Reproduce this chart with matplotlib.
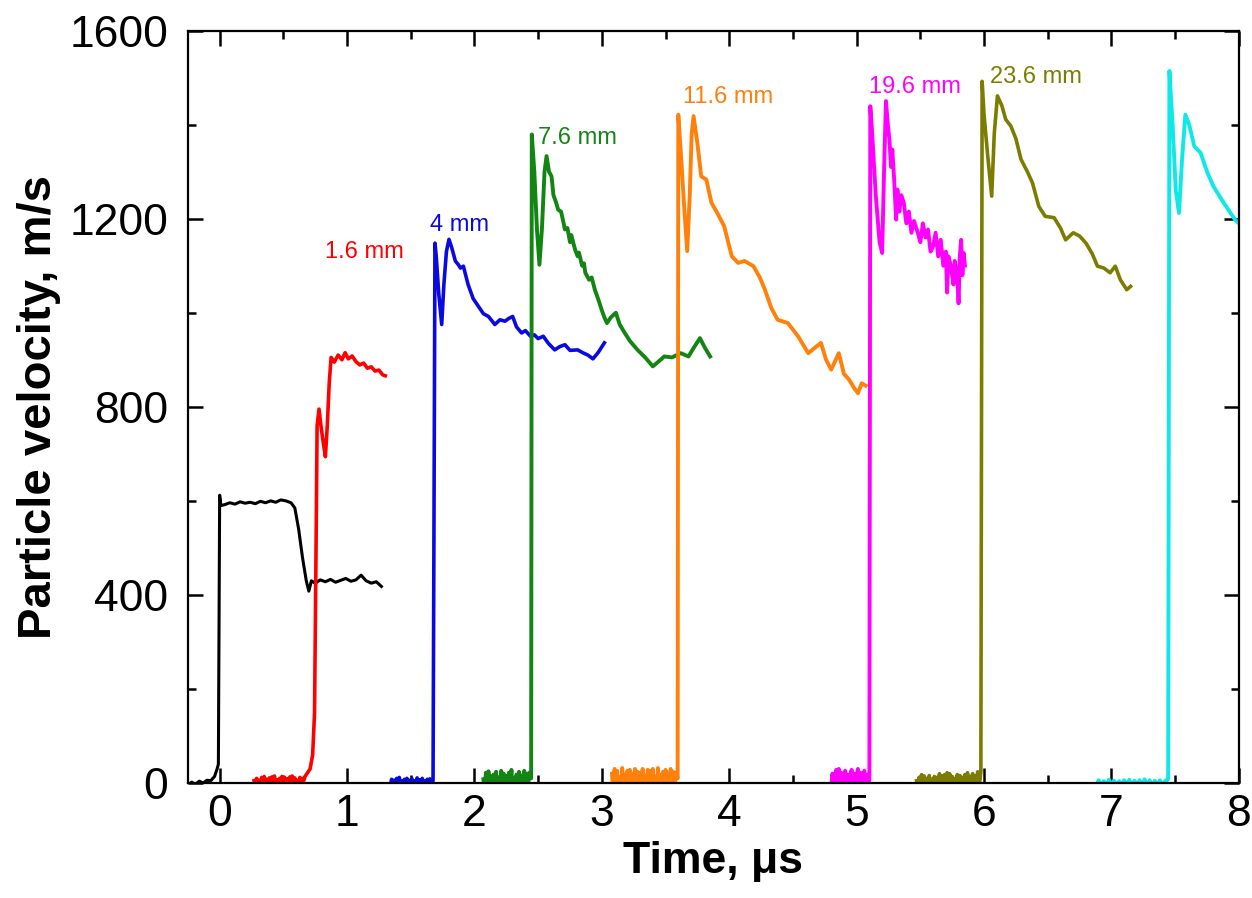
import matplotlib
matplotlib.use("Agg")
import matplotlib.pyplot as plt
from matplotlib.ticker import MultipleLocator

plt.rcParams['font.family'] = ['Liberation Sans', 'DejaVu Sans']

# gauge traces, time in us, particle velocity in m/s
t_black = [-0.25, -0.22, -0.19, -0.16, -0.13, -0.10, -0.07, -0.04, -0.02, -0.01, 0.00, 0.01,
           0.04, 0.08, 0.12, 0.16, 0.20, 0.24, 0.28, 0.32, 0.36, 0.40, 0.44, 0.48, 0.52, 0.56,
           0.59, 0.62, 0.65, 0.68, 0.70, 0.72, 0.75, 0.79, 0.83, 0.87, 0.91, 0.95, 0.99, 1.03,
           1.07, 1.11, 1.15, 1.19, 1.23, 1.27]
v_black = [-5, 2, -3, 4, 0, 6, 5, 14, 30, 40, 612, 590,
           592, 596, 593, 598, 595, 597, 594, 599, 596, 600, 597, 602, 600, 596,
           585, 540, 480, 430, 408, 430, 425, 432, 428, 433, 427, 431, 435, 429,
           432, 442, 430, 425, 428, 418]

t_red = [0.27, 0.28, 0.29, 0.30, 0.31, 0.32, 0.33, 0.34, 0.35, 0.36, 0.37, 0.38, 0.39, 0.40,
         0.41, 0.42, 0.43, 0.44, 0.45, 0.46, 0.47, 0.48, 0.49, 0.50, 0.51, 0.52, 0.53, 0.54,
         0.55, 0.56, 0.57, 0.58, 0.59, 0.60, 0.61, 0.62, 0.63, 0.64, 0.65, 0.66, 0.67, 0.68,
         0.69, 0.71, 0.73, 0.745, 0.755, 0.765,
         0.78, 0.795, 0.81, 0.83, 0.845, 0.86, 0.875, 0.90, 0.93, 0.96, 0.985, 1.01, 1.04,
         1.07, 1.10, 1.13, 1.16, 1.19, 1.22, 1.25, 1.28, 1.30]
v_red = [5, -8, 10, -12, 6, -15, 12, -6, 14, -10, 8, -14, 11, -5,
         13, -9, 15, -12, 7, -4, 10, -12, 14, -8, 12, -15, 9, -6,
         13, -10, 15, -8, 11, -13, 6, -9, 12, -7, 10, 5, 14, 18,
         22, 30, 60, 150, 450, 760,
         795, 760, 730, 694, 760, 850, 905, 895, 910, 900, 915, 902, 908,
         896, 889, 893, 882, 885, 876, 878, 868, 866]

t_blue = [1.34, 1.35, 1.36, 1.37, 1.38, 1.39, 1.40, 1.41, 1.42, 1.43, 1.44, 1.45, 1.46, 1.47,
          1.48, 1.49, 1.50, 1.51, 1.52, 1.53, 1.54, 1.55, 1.56, 1.57, 1.58, 1.59, 1.60, 1.61,
          1.62, 1.63, 1.64, 1.65, 1.66, 1.675, 1.683, 1.69, 1.70, 1.72, 1.743, 1.76, 1.78,
          1.80, 1.82, 1.85, 1.874, 1.89, 1.913, 1.95, 1.99, 2.03, 2.07, 2.11, 2.16, 2.20,
          2.24, 2.27, 2.30, 2.33, 2.37, 2.40, 2.44, 2.47, 2.50, 2.54, 2.58, 2.63, 2.67,
          2.71, 2.75, 2.81, 2.85, 2.89, 2.93, 2.97, 3.02]
v_blue = [-5, 8, -10, 6, -4, 10, -8, 12, -6, 4, -10, 8, -5, 10,
          -8, 6, -4, 9, -7, 5, -9, 11, -3, 7, -6, 10, -8, 5,
          -4, 8, -6, 9, -3, 5, 600, 1148, 1120, 1040, 975, 1060, 1130,
          1156, 1140, 1110, 1102, 1095, 1099, 1060, 1030, 1014, 998, 992, 975, 985,
          982, 988, 992, 970, 957, 962, 950, 953, 945, 950, 935, 921, 928,
          932, 920, 921, 915, 910, 902, 915, 936]

t_green = [2.07, 2.08, 2.09, 2.10, 2.11, 2.12, 2.13, 2.14, 2.15, 2.16, 2.17, 2.18, 2.19, 2.20,
           2.21, 2.22, 2.23, 2.24, 2.25, 2.26, 2.27, 2.28, 2.29, 2.30, 2.31, 2.32, 2.33, 2.34,
           2.35, 2.36, 2.37, 2.38, 2.39, 2.40, 2.41, 2.42, 2.43, 2.445,
           2.45, 2.47, 2.49, 2.51, 2.53, 2.55, 2.566,
           2.585, 2.605, 2.62, 2.64, 2.657, 2.68, 2.70, 2.71, 2.73, 2.75, 2.76, 2.79, 2.81,
           2.82, 2.845, 2.86, 2.87, 2.90, 2.92, 2.945, 2.97, 3.00, 3.02, 3.04, 3.07, 3.11,
           3.14, 3.18, 3.22, 3.28, 3.34, 3.40, 3.44, 3.49, 3.55, 3.62, 3.68, 3.72, 3.77,
           3.81, 3.85]
v_green = [8, -18, 22, -12, 25, -20, 14, -25, 18, -8, 24, -22, 12, -16,
           26, -10, 20, -24, 15, -18, 22, -14, 28, -20, 10, -26, 18, -12,
           24, -20, 16, -22, 26, -15, 20, -10, 22, 10,
           1379, 1300, 1180, 1102, 1180, 1300, 1333,
           1300, 1290, 1250, 1235, 1219, 1215, 1190, 1177, 1180, 1150, 1165, 1134, 1120,
           1128, 1100, 1105, 1085, 1070, 1075, 1049, 1030, 1005, 990, 978, 990, 1000,
           975, 957, 940, 921, 905, 886, 895, 907, 905, 914, 907, 925, 946,
           925, 907]

t_orange = [3.08, 3.09, 3.10, 3.11, 3.12, 3.13, 3.14, 3.15, 3.16, 3.17, 3.18, 3.19, 3.20, 3.21,
            3.22, 3.23, 3.24, 3.25, 3.26, 3.27, 3.28, 3.29, 3.30, 3.31, 3.32, 3.33, 3.34, 3.35,
            3.36, 3.37, 3.38, 3.39, 3.40, 3.41, 3.42, 3.43, 3.44, 3.45, 3.46, 3.47, 3.48, 3.49,
            3.50, 3.51, 3.52, 3.53, 3.54, 3.55, 3.56, 3.57, 3.58, 3.595,
            3.60, 3.62, 3.645, 3.67, 3.69, 3.705, 3.72, 3.75, 3.78, 3.82, 3.86, 3.91, 3.96,
            4.02, 4.07, 4.12, 4.19, 4.24, 4.28, 4.33, 4.38, 4.46, 4.54, 4.62, 4.67, 4.72,
            4.76, 4.80, 4.86, 4.90, 4.94, 4.98, 5.01, 5.04, 5.07]
v_orange = [20, -25, 30, -18, 26, -30, 12, -28, 32, -22, 18, -30, 26, -14,
            28, -26, 20, -32, 30, -18, 24, -28, 22, -26, 30, -20, 16, -30,
            28, -12, 26, -24, 30, -20, 14, -28, 32, -22, 18, -30, 24, -16,
            28, -26, 20, -30, 30, -18, 24, -28, 22, 10,
            1421, 1340, 1230, 1131, 1250, 1380, 1418, 1360, 1290, 1283, 1234, 1210, 1184,
            1120, 1106, 1110, 1099, 1075, 1049, 1010, 985, 978, 950, 914, 925, 936,
            900, 879, 914, 870, 858, 840, 829, 850, 845]

t_magenta = [4.80, 4.81, 4.82, 4.83, 4.84, 4.85, 4.86, 4.87, 4.88, 4.89, 4.90, 4.91, 4.92,
             4.93, 4.94, 4.95, 4.96, 4.97, 4.98, 4.99, 5.00, 5.01, 5.02, 5.03, 5.04, 5.05,
             5.06, 5.07, 5.08, 5.09, 5.10,
             5.107, 5.12, 5.15, 5.18, 5.20, 5.215, 5.23, 5.245, 5.257,
             5.27, 5.28, 5.295, 5.31, 5.32, 5.335, 5.35, 5.37, 5.39, 5.41, 5.43, 5.45, 5.48,
             5.50, 5.52, 5.54, 5.56, 5.58, 5.60, 5.62, 5.64, 5.66, 5.68, 5.70, 5.71, 5.72,
             5.74, 5.76, 5.77, 5.79, 5.80, 5.81, 5.82, 5.83, 5.84, 5.85]
v_magenta = [-10, 20, -25, 15, 28, -20, 30, -15, 22, -28, 15, 26, -20,
             18, -24, 12, 28, -22, 20, -26, 16, 30, -18, 22, -25, 14,
             26, -20, 18, -12, 10,
             1439, 1390, 1250, 1150, 1127, 1300, 1450, 1400, 1368,
             1310, 1347, 1280, 1198, 1262, 1215, 1250, 1234, 1190, 1215, 1170, 1195, 1170,
             1150, 1190, 1160, 1177, 1130, 1141, 1170, 1120, 1155, 1100, 1130, 1043, 1120,
             1099, 1060, 1110, 1077, 1020, 1120, 1155, 1080, 1127, 1100]

t_olive = [5.47, 5.48, 5.49, 5.50, 5.51, 5.52, 5.53, 5.54, 5.55, 5.56, 5.57, 5.58, 5.59, 5.60,
           5.61, 5.62, 5.63, 5.64, 5.65, 5.66, 5.67, 5.68, 5.69, 5.70, 5.71, 5.72, 5.73, 5.74,
           5.75, 5.76, 5.77, 5.78, 5.79, 5.80, 5.81, 5.82, 5.83, 5.84, 5.85, 5.86, 5.87, 5.88,
           5.89, 5.90, 5.91, 5.92, 5.93, 5.94, 5.95, 5.96, 5.975,
           5.985, 6.00, 6.03, 6.06, 6.08, 6.105, 6.14, 6.17, 6.21, 6.25, 6.29, 6.34, 6.38,
           6.43, 6.48, 6.55, 6.60, 6.64, 6.70, 6.75, 6.80, 6.85, 6.89, 6.94, 6.99, 7.03,
           7.07, 7.12, 7.15]
v_olive = [5, -15, 12, -10, 18, -8, 15, -18, 10, -12, 16, -10, 8, -15,
           14, -8, 12, -18, 20, -10, 15, -20, 18, -12, 22, -15, 20, -8,
           14, -18, 10, -14, 18, -10, 16, -20, 12, -8, 18, -16, 22, -10,
           14, -18, 20, -12, 16, -20, 24, -14, 25,
           1492, 1420, 1330, 1248, 1380, 1461, 1440, 1411, 1397, 1370, 1326, 1300, 1276,
           1226, 1205, 1202, 1180, 1155, 1170, 1163, 1148, 1125, 1099, 1095, 1085, 1099,
           1070, 1049, 1056]

t_cyan = [6.88, 6.90, 6.92, 6.94, 6.96, 6.98, 7.00, 7.02, 7.04, 7.06, 7.08, 7.10, 7.12, 7.14,
          7.16, 7.18, 7.20, 7.22, 7.24, 7.26, 7.28, 7.30, 7.32, 7.34, 7.36, 7.38, 7.40, 7.42,
          7.445, 7.455, 7.48, 7.505, 7.53, 7.555, 7.58, 7.61,
          7.65, 7.70, 7.75, 7.80, 7.88, 7.97, 8.02]
v_cyan = [-4, 6, -6, 4, -5, 7, -3, 5, -7, 4, -5, 6, -4, 7,
          -6, 5, -4, 6, -5, 8, -4, 6, -7, 5, -3, 6, -5, 4,
          8, 1514, 1400, 1260, 1212, 1330, 1421, 1400,
          1354, 1340, 1300, 1269, 1234, 1198, 1185]

traces = [
    (t_black, v_black, 'black', 2.2),
    (t_red, v_red, '#ff0000', 2.6),
    (t_blue, v_blue, '#0a0ae0', 2.6),
    (t_green, v_green, '#128512', 2.8),
    (t_orange, v_orange, '#ff800a', 2.8),
    (t_magenta, v_magenta, '#ff00ff', 2.8),
    (t_olive, v_olive, '#7c7c00', 2.6),
    (t_cyan, v_cyan, '#10e8e8', 2.8),
]

labels = ['1.6 mm', '4 mm', '7.6 mm', '11.6 mm', '19.6 mm', '23.6 mm']
label_t = [0.83, 1.655, 2.50, 3.637, 5.10, 6.05]
label_v = [1130, 1187, 1372, 1458, 1479, 1502]
label_colors = ['#ff0000', '#0a0ae0', '#128512', '#ff800a', '#ff00ff', '#7c7c00']

fig = plt.figure(figsize=(12.52, 8.98), dpi=100)
ax = fig.add_axes([0.150, 0.128, 0.8395, 0.838])

for t, v, c, lw in traces:
    ax.plot(t, v, color=c, lw=lw, solid_joinstyle='round')

for txt, x, y, c in zip(labels, label_t, label_v, label_colors):
    ax.text(x, y, txt, color=c, fontsize=17, va='center', ha='left')

ax.set_xlim(-0.25, 8)
ax.set_ylim(0, 1600)
ax.xaxis.set_major_locator(MultipleLocator(1))
ax.xaxis.set_minor_locator(MultipleLocator(0.5))
ax.yaxis.set_major_locator(MultipleLocator(400))
ax.yaxis.set_minor_locator(MultipleLocator(200))
ax.tick_params(which='both', direction='in', top=True, right=True, width=1.8)
ax.tick_params(which='major', length=11, labelsize=32)
ax.tick_params(axis='x', which='major', pad=8)
ax.tick_params(axis='y', which='major', pad=14)
ax.tick_params(which='minor', length=6)
for s in ax.spines.values():
    s.set_linewidth(1.6)

ax.set_xlabel('Time, \u03bcs', fontsize=32, fontweight='bold', labelpad=4)
ax.set_ylabel('Particle velocity, m/s', fontsize=34, fontweight='bold', labelpad=6)

fig.savefig('out.png', dpi=100)
